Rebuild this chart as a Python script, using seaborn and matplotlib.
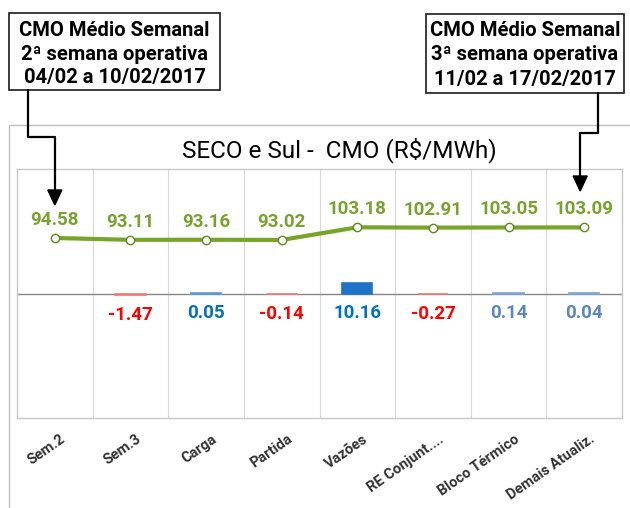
import numpy as np
import pandas as pd
import seaborn as sns
import matplotlib.pyplot as plt
from matplotlib.patches import Rectangle, Polygon
from matplotlib.lines import Line2D
from matplotlib.transforms import ScaledTranslation

categorias = ["Sem.2", "Sem.3", "Carga", "Partida", "Vazões", "RE Conjunt....", "Bloco Térmico", "Demais Atualiz."]
cmo = [94.58, 93.11, 93.16, 93.02, 103.18, 102.91, 103.05, 103.09]
variacao = [np.nan, -1.47, 0.05, -0.14, 10.16, -0.27, 0.14, 0.04]
cor_barra = ["#FFFFFF", "#EE7B7B", "#5B9BD5", "#EE7B7B", "#1F73C7", "#EE7B7B", "#7FA6D6", "#7FA6D6"]
cor_rotulo = ["#000000", "#FF0000", "#0070C0", "#FF0000", "#0070C0", "#FF0000", "#5A86C1", "#5A86C1"]
titulo = "SECO e Sul -  CMO (R\\$/MWh)"
caixa_esq = ["CMO Médio Semanal", "2ª semana operativa", "04/02 a 10/02/2017"]
caixa_dir = ["CMO Médio Semanal", "3ª semana operativa", "11/02 a 17/02/2017"]

W, H = 630, 508
VERDE = "#76A52A"

sns.set_style("white")
plt.rcParams["font.family"] = ["Roboto", "DejaVu Sans"]


def fp(x, y):
    # pixel (from top-left) -> figure fraction
    return x / W, 1 - y / H


fig = plt.figure(figsize=(W / 100, H / 100), dpi=100)
ax = fig.add_axes([17 / W, (H - 418) / H, 605 / W, 249 / H])

df = pd.DataFrame({"cat": categorias, "var": variacao})
sns.barplot(data=df, x="cat", y="var", hue="cat", palette=dict(zip(categorias, cor_barra)),
            order=categorias, hue_order=categorias, legend=False, width=0.4,
            saturation=1, ax=ax)
for p in ax.patches:
    p.set_edgecolor(p.get_facecolor())
    p.set_linewidth(1.2)
    p.set_zorder(3)
ax.set_ylim(-120, 120)
ax.set_xlim(-0.5, 7.5)
ax.axhline(0, color="#868686", lw=1, zorder=2)
ax.set_xlabel("")
ax.set_ylabel("")
ax.set_yticks([])
ax.set_xticks(np.arange(-0.5, 8), minor=True)
ax.grid(which="minor", axis="x", color="#D9D9D9", lw=0.8)
ax.grid(which="major", visible=False)
ax.set_axisbelow(True)
ax.tick_params(axis="x", which="major", length=0, pad=10)
ax.tick_params(axis="x", which="minor", length=5, color="#BFBFBF", width=0.8)
ax.set_xticks(range(len(categorias)))
ax.set_xticklabels(categorias, rotation=35, ha="right", rotation_mode="anchor",
                   fontsize=10.5, weight="bold", color="#333333")
desloc = ScaledTranslation(5 / 100, 0, fig.dpi_scale_trans)
for lbl in ax.get_xticklabels():
    lbl.set_transform(lbl.get_transform() + desloc)
for s in ax.spines.values():
    s.set_color("#C8C8C8")
    s.set_linewidth(1)

for i, v in enumerate(variacao):
    if np.isnan(v):
        continue
    ax.annotate(f"{v:.2f}", (i, min(v, 0)), xytext=(0, -20), textcoords="offset pixels",
                ha="center", va="center", fontsize=13.5, weight="bold", color=cor_rotulo[i])

ax2 = ax.twinx()
pos = np.arange(len(categorias))
sns.lineplot(x=pos, y=cmo, ax=ax2, color=VERDE, lw=3, marker="o", markersize=6,
             markerfacecolor="white", markeredgecolor="#5E8A1E", markeredgewidth=1)
ax2.set_ylim(-50, 150)
ax2.set_xlim(-0.5, 7.5)
ax2.set_yticks([])
ax2.set_ylabel("")
for s in ax2.spines.values():
    s.set_visible(False)
for i, v in enumerate(cmo):
    ax2.annotate(f"{v:.2f}", (i, v), xytext=(0, 18), textcoords="offset pixels",
                 ha="center", va="center", fontsize=13.5, weight="bold", color="#78A22F")

fig.text(*fp(339, 150), titulo, ha="center", va="center", fontsize=17.5, color="black")

# outer chart frame
fig.add_artist(Rectangle(fp(9, 560), 2, (560 - 125) / H, transform=fig.transFigure,
                         fill=False, ec="#BFBFBF", lw=1))


def caixa(x0, y0, x1, y1, linhas):
    fig.add_artist(Rectangle(fp(x0, y1), (x1 - x0) / W, (y1 - y0) / H, transform=fig.transFigure,
                             fill=True, fc="white", ec="#1a1a1a", lw=1.2))
    cx = (x0 + x1) / 2
    for k, t in enumerate(linhas):
        fig.text(*fp(cx, y0 + 17 + k * 24), t, ha="center", va="center",
                 fontsize=14.5, weight="bold", color="black")


def seta(pontos, ponta):
    xs = [fp(x, y)[0] for x, y in pontos]
    ys = [fp(x, y)[1] for x, y in pontos]
    fig.add_artist(Line2D(xs, ys, transform=fig.transFigure, color="black", lw=1.6))
    xt, yt = ponta
    fig.add_artist(Polygon([fp(xt - 7, yt - 15), fp(xt + 7, yt - 15), fp(xt, yt)],
                           closed=True, transform=fig.transFigure, color="black"))


fig.canvas.draw()
x0_px = ax2.transData.transform((0, cmo[0]))[0]
x7_px = ax2.transData.transform((7, cmo[7]))[0]

caixa(9, 13, 220, 90, caixa_esq)
caixa(426, 14, 624, 93, caixa_dir)
seta([(28, 90), (28, 137), (x0_px, 137), (x0_px, 192)], (x0_px, 205))
seta([(598, 93), (598, 133), (x7_px - 4, 133), (x7_px - 4, 178)], (x7_px - 4, 191))

fig.savefig("out.png", dpi=100, facecolor="white")
